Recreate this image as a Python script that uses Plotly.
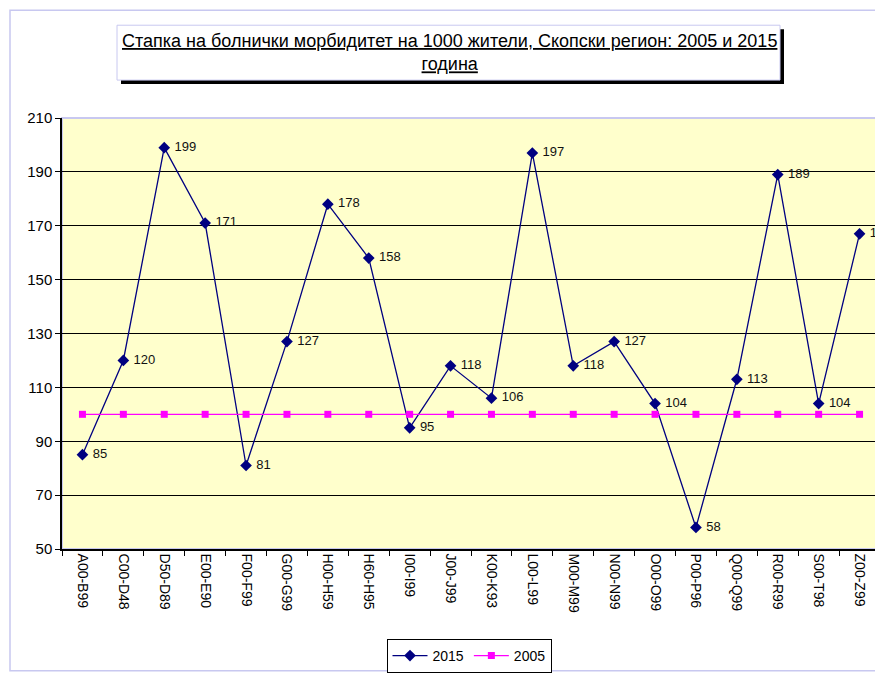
import plotly.graph_objects as go

# data
categories = ["A00-B99", "C00-D48", "D50-D89", "E00-E90", "F00-F99", "G00-G99", "H00-H59",
              "H60-H95", "I00-I99", "J00-J99", "K00-K93", "L00-L99", "M00-M99", "N00-N99",
              "O00-O99", "P00-P96", "Q00-Q99", "R00-R99", "S00-T98", "Z00-Z99"]
values_2015 = [85, 120, 199, 171, 81, 127, 178, 158, 95, 118, 106, 197, 118, 127, 104, 58, 113, 189, 104, 167]
values_2005 = [100] * 20

title_text = "Стапка на болнички морбидитет на 1000 жители, Скопски регион: 2005 и 2015<br>година"

# the page body adds 8px, so the figure is laid out in page pixels minus 8
OFF = 8
W, H = 883 - OFF, 675 - OFF
L, R, T, B = 62, 880, 118, 550


def px_x(p):
    return (p - L) / (R - L)


def px_y(p):
    return (B - p) / (B - T)


fig = go.Figure()

fig.add_trace(go.Scatter(
    x=categories, y=values_2015, name="2015", mode="lines+markers+text",
    line=dict(color="#000080", width=1.3),
    marker=dict(symbol="diamond", size=9, color="#000080"),
    text=["\u00a0" + str(v) for v in values_2015], textposition="middle right",
    textfont=dict(family="Arial", size=13, color="#111111"),
    cliponaxis=False,
))
fig.add_trace(go.Scatter(
    x=categories, y=values_2005, name="2005", mode="lines+markers",
    line=dict(color="#FF00FF", width=1.3),
    marker=dict(symbol="square", size=7, color="#FF00FF"),
))

shapes = [
    # outer chart border
    dict(type="rect", xref="paper", yref="paper", x0=px_x(10), x1=px_x(881), y0=px_y(672), y1=px_y(10),
         line=dict(color="#C8C8F0", width=1.5), layer="below"),
    # plot area border (top/right)
    dict(type="rect", xref="paper", yref="paper", x0=0, x1=1, y0=0, y1=1,
         line=dict(color="#C8C8F0", width=2), layer="below"),
    # title shadow
    dict(type="rect", xref="paper", yref="paper", x0=px_x(121), x1=px_x(784), y0=px_y(84), y1=px_y(29),
         line=dict(width=0), fillcolor="black"),
    # title box
    dict(type="rect", xref="paper", yref="paper", x0=px_x(117), x1=px_x(780), y0=px_y(80), y1=px_y(25),
         line=dict(color="#C8C8F0", width=1), fillcolor="white"),
]

fig.update_layout(
    width=W, height=H,
    margin=dict(l=L - OFF, r=W - (R - OFF), t=T - OFF, b=H - (B - OFF)),
    paper_bgcolor="white",
    plot_bgcolor="#FFFFCC",
    font=dict(family="Arial", size=13, color="black"),
    shapes=shapes,
    annotations=[dict(
        text="<u>" + title_text.replace("<br>", "</u><br><u>") + "</u>",
        xref="paper", yref="paper", x=px_x(449), y=px_y(52),
        xanchor="center", yanchor="middle", showarrow=False,
        font=dict(family="Arial", size=18, color="black"),
    )],
    showlegend=True,
    legend=dict(orientation="h", x=px_x(469), y=px_y(656), xanchor="center", yanchor="middle",
                bordercolor="black", borderwidth=1, bgcolor="white",
                font=dict(family="Arial", size=14), itemwidth=35),
    xaxis=dict(
        type="category", tickson="boundaries", ticks="outside", ticklen=5, tickcolor="black",
        tickangle=90, tickfont=dict(family="Arial", size=14),
        showline=True, linecolor="black", linewidth=1.5, showgrid=False,
        range=[-0.5, len(categories) - 0.5],
    ),
    yaxis=dict(
        range=[50, 210], dtick=20, tick0=50, ticks="outside", ticklen=5, tickcolor="black",
        tickfont=dict(family="Arial", size=15),
        showline=True, linecolor="black", linewidth=1.5,
        showgrid=True, gridcolor="black", gridwidth=1, zeroline=False,
    ),
)

fig.write_html("out.html")
